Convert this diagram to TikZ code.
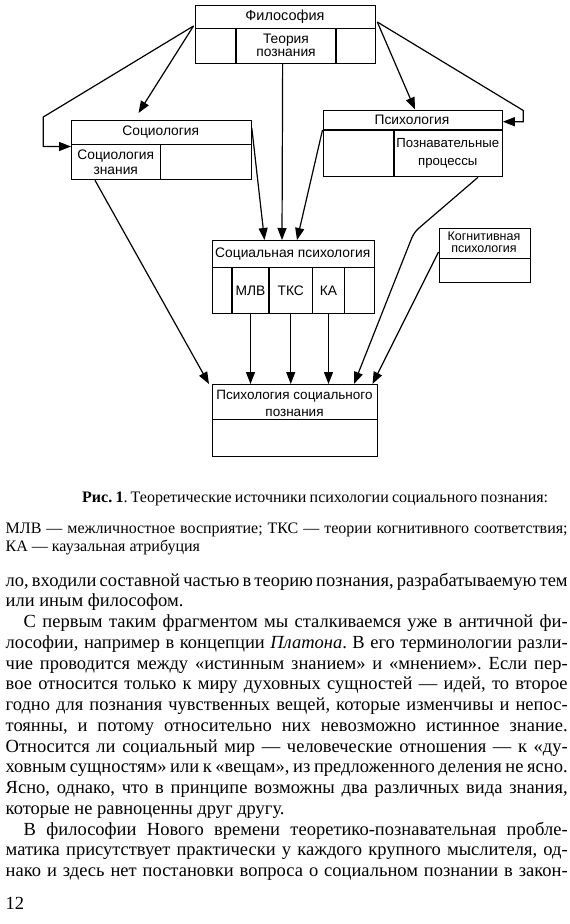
\documentclass[tikz,border=0pt]{standalone}
\usepackage{fontspec}
\setmainfont{Liberation Serif}
\newfontfamily\dfam{Liberation Sans}
\usetikzlibrary{arrows.meta,calc}
\newcommand\dfont{\dfam\fontsize{13.8}{15.5}\selectfont}
\newcommand\bodyfont{\fontsize{18.5}{20}\selectfont\frenchspacing\spaceskip=0.25em plus 0.6em minus 0.15em\relax}
\newcommand\capfont{\fontsize{16}{17}\selectfont\frenchspacing\spaceskip=0.25em plus 0.6em minus 0.15em\relax}
\newcommand\fl[1]{\hbox to 562pt{#1}}
\newcommand\il[1]{\hbox to 544pt{#1}}
\tikzset{
  box/.style={draw, line width=1.3pt, inner sep=0pt, anchor=north west},
  lbl/.style={inner sep=0pt, font=\dfont, align=center},
  ln/.style={line width=1.3pt},
  arr/.style={line width=1.2pt, -{Triangle[length=12pt,width=9pt]}},
  bl/.style={anchor=base west, inner sep=0pt, font=\bodyfont},
  cl/.style={anchor=base west, inner sep=0pt, font=\capfont},
}
\begin{document}
\begin{tikzpicture}[x=1pt,y=-1pt]
\useasboundingbox (0,0) rectangle (570,924);
\fill[white] (0,0) rectangle (570,924);
% boxes
\node[box, minimum width=180pt, minimum height=58pt] (phil) at (195,4.5) {};
\node[box, minimum width=179.5pt, minimum height=59pt] (soc) at (71,120) {};
\node[box, minimum width=179pt, minimum height=66.5pt] (psy) at (322.5,109.5) {};
\node[box, minimum width=162.5pt, minimum height=72.5pt] (sp) at (211.5,240) {};
\node[box, minimum width=91pt, minimum height=53.5pt] (cog) at (438.5,228) {};
\node[box, minimum width=165pt, minimum height=71.5pt] (psc) at (212,384) {};
% dividers
\draw[ln] ($(phil.north west)+(0,24)$) -- ($(phil.north east)+(0,24)$);
\draw[ln] ($(phil.north west)+(41,24)$) -- ($(phil.south west)+(41,0)$);
\draw[ln] ($(phil.north west)+(141,24)$) -- ($(phil.south west)+(141,0)$);
\draw[ln] ($(soc.north west)+(0,24.3)$) -- ($(soc.north east)+(0,24.3)$);
\draw[ln] ($(soc.north west)+(89.5,24.3)$) -- ($(soc.south west)+(89.5,0)$);
\draw[ln] ($(psy.north west)+(0,20.5)$) -- ($(psy.north east)+(0,20.5)$);
\draw[ln] ($(psy.north west)+(71.5,20.5)$) -- ($(psy.south west)+(71.5,0)$);
\draw[ln] ($(sp.north west)+(0,27.7)$) -- ($(sp.north east)+(0,27.7)$);
\foreach \dx in {20.5,57.5,101,133}
  \draw[ln] ($(sp.north west)+(\dx,27.7)$) -- ($(sp.south west)+(\dx,0)$);
\draw[ln] ($(cog.north west)+(0,30.3)$) -- ($(cog.north east)+(0,30.3)$);
\draw[ln] ($(psc.north west)+(0,35.5)$) -- ($(psc.north east)+(0,35.5)$);
% labels
\node[lbl, font=\dfam\fontsize{14.5}{15}\selectfont] (tphil) at (285,16.5) {Философия};
\node[lbl, font=\dfam\fontsize{13.8}{13.5}\selectfont] (tteor) at (286,45.5) {Теория\\познания};
\node[lbl] (tsoc) at (160.75,132) {Социология};
\node[lbl, font=\dfam\fontsize{13.8}{15.5}\selectfont] (tsocz) at (115.75,162) {Социология\\знания};
\node[lbl] (tpsy) at (412,120) {Психология};
\node[lbl, font=\dfam\fontsize{13.2}{17.5}\selectfont] (tpozn) at (447.75,153.5) {Познавательные\\процессы};
\node[lbl] (tsp) at (292.75,254) {Социальная психология};
\node[lbl] (tmlv) at (250.5,290.5) {МЛВ};
\node[lbl] (ttks) at (290.75,290.5) {ТКС};
\node[lbl] (tka) at (328.5,290.5) {КА};
\node[lbl, font=\dfam\fontsize{12.5}{12.5}\selectfont] (tcog) at (484,242.5) {Когнитивная\\психология};
\node[lbl, font=\dfam\fontsize{13.5}{17.5}\selectfont] (tpsc) at (294.5,403.5) {Психология социального\\познания};
% connectors
\coordinate (pl) at ($(phil.north west)+(-1.5,21.5)$);
\coordinate (pr) at ($(phil.north east)+(1,17.5)$);
\draw[arr] (pl) -- ($(soc.north west)+(67.5,-7)$);
\draw[arr] (pl) -- ($(soc.north west)+(-27.7,-3)$) |- ($(soc.north west)+(0,26.5)$);
\draw[arr] (pr) -- ($(psy.north west)+(92.5,0)$);
\draw[arr] (pr) -- ($(psy.north east)+(20.5,1)$) |- ($(psy.north east)+(0,12.2)$);
\draw[arr] ($(phil.south)+(-3,0)$) -- ($(sp.north west)+(70.5,0)$);
\draw[arr] ($(soc.north east)+(0,8)$) -- ($(sp.north west)+(53,0)$);
\draw[arr] ($(psy.north west)+(0,20.5)$) -- ($(sp.north west)+(85.5,0)$);
\coordinate (s1) at ($(sp.south west)+(39,0)$);
\coordinate (s2) at ($(sp.south west)+(79.25,0)$);
\coordinate (s3) at ($(sp.south west)+(117,0)$);
\draw[arr] (s1) -- (s1 |- psc.north);
\draw[arr] (s2) -- (s2 |- psc.north);
\draw[arr] (s3) -- (s3 |- psc.north);
\draw[arr] ($(soc.south west)+(24,0)$) -- ($(psc.north west)+(-3,0)$);
\draw[arr, rounded corners=6pt] ($(psy.south west)+(155.5,0)$) -- ($(psy.south west)+(91.5,55)$) -- ($(psc.north west)+(142,0)$);
\draw[arr] ($(cog.north west)+(0,24)$) -- ($(psc.north west)+(160.5,0)$);
% caption
\node[cl] (cap1) at (82,502) {\hbox to 466pt{\textbf{Рис. 1}. Теоретические источники психологии социального познания:}};
\node[cl] (cap2) at (5.5,533) {\hbox to 562pt{МЛВ — межличностное восприятие; ТКС — теории когнитивного соответствия;}};
\node[cl] (cap3) at (5.5,551) {КА — каузальная атрибуция};
% body text
\node[bl] (b0) at (5.5,586) {\fl{ло, входили составной частью в теорию познания, разрабатываемую тем}};
\node[bl] (b1) at (5.5,606.75) {или иным философом.};
\node[bl] (b2) at (23.5,627.5) {\il{С первым таким фрагментом мы сталкиваемся уже в античной фи-}};
\node[bl] (b3) at (5.5,648.25) {\fl{лософии, например в концепции \textit{Платона}. В его терминологии разли-}};
\node[bl] (b4) at (5.5,669) {\fl{чие проводится между «истинным знанием» и «мнением». Если пер-}};
\node[bl] (b5) at (5.5,689.75) {\fl{вое относится только к миру духовных сущностей — идей, то второе}};
\node[bl] (b6) at (5.5,710.5) {\fl{годно для познания чувственных вещей, которые изменчивы и непос-}};
\node[bl] (b7) at (5.5,731.25) {\fl{тоянны, и потому относительно них невозможно истинное знание.}};
\node[bl] (b8) at (5.5,752) {\fl{Относится ли социальный мир — человеческие отношения — к «ду-}};
\node[bl] (b9) at (5.5,772.75) {\fl{ховным сущностям» или к «вещам», из предложенного деления не ясно.}};
\node[bl] (b10) at (5.5,793.5) {\fl{Ясно, однако, что в принципе возможны два различных вида знания,}};
\node[bl] (b11) at (5.5,814.25) {которые не равноценны друг другу.};
\node[bl] (b12) at (23.5,835) {\il{В философии Нового времени теоретико-познавательная пробле-}};
\node[bl] (b13) at (5.5,855.75) {\fl{матика присутствует практически у каждого крупного мыслителя, од-}};
\node[bl] (b14) at (5.5,876.5) {\fl{нако и здесь нет постановки вопроса о социальном познании в закон-}};
\node[bl] (pg) at (5.5,909) {12};
\end{tikzpicture}
\end{document}
